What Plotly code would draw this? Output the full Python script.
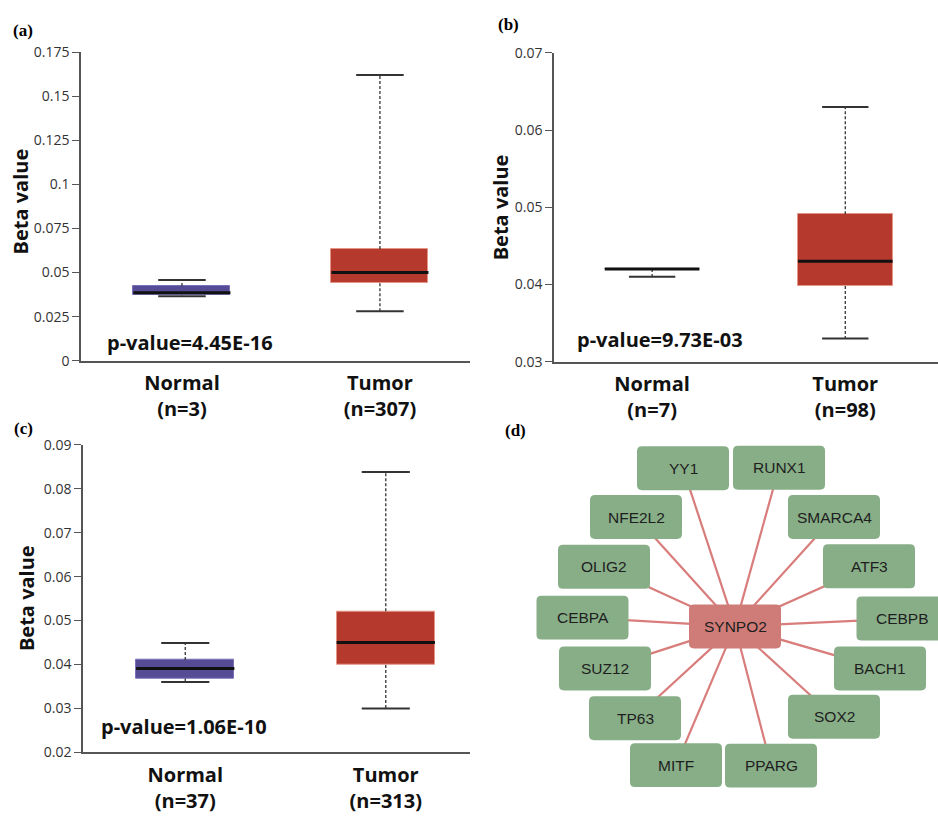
import plotly.graph_objects as go

# ---------------- data ----------------
groups = ["Normal", "Tumor"]

# panel (a)
a_n = ["n=3", "n=307"]
a_lower = [0.0365, 0.0281]
a_q1 = [0.0370, 0.0439]
a_med = [0.0385, 0.0500]
a_q3 = [0.0424, 0.0633]
a_upper = [0.0457, 0.1620]
a_p = "p-value=4.45E-16"
a_ticks = [0, 0.025, 0.05, 0.075, 0.1, 0.125, 0.15, 0.175]

# panel (b)
b_n = ["n=7", "n=98"]
b_lower = [0.0410, 0.0330]
b_q1 = [0.0420, 0.0398]
b_med = [0.0420, 0.0430]
b_q3 = [0.0420, 0.0491]
b_upper = [0.0420, 0.0630]
b_p = "p-value=9.73E-03"
b_ticks = [0.03, 0.04, 0.05, 0.06, 0.07]

# panel (c)
c_n = ["n=37", "n=313"]
c_lower = [0.0360, 0.0300]
c_q1 = [0.0368, 0.0399]
c_med = [0.0391, 0.0450]
c_q3 = [0.0410, 0.0521]
c_upper = [0.0449, 0.0838]
c_p = "p-value=1.06E-10"
c_ticks = [0.02, 0.03, 0.04, 0.05, 0.06, 0.07, 0.08, 0.09]

# panel (d) network
hub = "SYNPO2"
targets = ["YY1", "RUNX1", "NFE2L2", "SMARCA4", "OLIG2", "ATF3", "CEBPA",
           "CEBPB", "SUZ12", "BACH1", "TP63", "SOX2", "MITF", "PPARG"]
# layout coordinates of the network (hub at origin)
target_x = [-52, 44, -99, 99, -131, 134, -152.5, 167.5, -130, 145, -100, 99, -59, 36]
target_y = [162, 162.5, 112, 112, 61, 61.5, 9, 8, -43, -43, -94, -92.5, -142, -142.5]
hub_x, hub_y = 0, 0

# ---------------- styles ----------------
W, H = 938, 822
FONT = "Open Sans"
NORMAL_FILL = "#564C96"
NORMAL_EDGE = "#7A72B8"
TUMOR_FILL = "#B5392C"
TUMOR_EDGE = "#E59585"
BOX_W = 0.49
CAP_W = 0.24

fig = go.Figure()


def px_x(p):
    return p / W


def px_y(p):
    return 1 - p / H


def add_box_panel(ax, lower, q1, med, q3, upper):
    xa = "x" if ax == 1 else f"x{ax}"
    ya = "y" if ax == 1 else f"y{ax}"
    xs = list(range(len(groups)))
    fig.add_trace(go.Bar(
        x=xs, y=[b - a for a, b in zip(q1, q3)], base=q1, width=BOX_W,
        marker=dict(color=[NORMAL_FILL, TUMOR_FILL],
                    line=dict(color=[NORMAL_EDGE, TUMOR_EDGE], width=1)),
        xaxis=xa, yaxis=ya, showlegend=False, hoverinfo="skip"))
    # whiskers (dashed)
    wx, wy = [], []
    for i in xs:
        wx += [i, i, None, i, i, None]
        wy += [q3[i], upper[i], None, q1[i], lower[i], None]
    fig.add_trace(go.Scatter(x=wx, y=wy, mode="lines",
                             line=dict(color="#333333", width=1.3, dash="3px,2px"),
                             xaxis=xa, yaxis=ya, showlegend=False, hoverinfo="skip"))
    # caps
    cx, cy = [], []
    for i in xs:
        cx += [i - CAP_W / 2, i + CAP_W / 2, None, i - CAP_W / 2, i + CAP_W / 2, None]
        cy += [upper[i], upper[i], None, lower[i], lower[i], None]
    fig.add_trace(go.Scatter(x=cx, y=cy, mode="lines",
                             line=dict(color="#333333", width=2),
                             xaxis=xa, yaxis=ya, showlegend=False, hoverinfo="skip"))
    # medians
    mx, my = [], []
    for i in xs:
        mx += [i - BOX_W / 2, i + BOX_W / 2, None]
        my += [med[i], med[i], None]
    fig.add_trace(go.Scatter(x=mx, y=my, mode="lines",
                             line=dict(color="#111111", width=3),
                             xaxis=xa, yaxis=ya, showlegend=False, hoverinfo="skip"))


add_box_panel(1, a_lower, a_q1, a_med, a_q3, a_upper)
add_box_panel(2, b_lower, b_q1, b_med, b_q3, b_upper)
add_box_panel(3, c_lower, c_q1, c_med, c_q3, c_upper)

# network edges
ex, ey = [], []
for tx, ty in zip(target_x, target_y):
    ex += [hub_x, tx, None]
    ey += [hub_y, ty, None]
fig.add_trace(go.Scatter(x=ex, y=ey, mode="lines",
                         line=dict(color="#D87D7B", width=2.2),
                         xaxis="x4", yaxis="y4", showlegend=False, hoverinfo="skip"))

NODE_W, NODE_H, R = 92, 45, 5
shapes = []
annotations = []


def rounded(cx, cy, fill):
    x0, x1 = cx - NODE_W / 2, cx + NODE_W / 2
    y0, y1 = cy - NODE_H / 2, cy + NODE_H / 2
    path = (f"M {x0+R},{y0} L {x1-R},{y0} Q {x1},{y0} {x1},{y0+R} "
            f"L {x1},{y1-R} Q {x1},{y1} {x1-R},{y1} L {x0+R},{y1} "
            f"Q {x0},{y1} {x0},{y1-R} L {x0},{y0+R} Q {x0},{y0} {x0+R},{y0} Z")
    return dict(type="path", path=path, xref="x4", yref="y4",
                fillcolor=fill, line=dict(width=0), layer="above")


NODE_FONT = dict(family="Liberation Sans", size=15.5, color="#1e1e1e")
for name, tx, ty in zip(targets, target_x, target_y):
    shapes.append(rounded(tx, ty, "#88AE88"))
    annotations.append(dict(x=tx, y=ty, xref="x4", yref="y4", text=name,
                            showarrow=False, xanchor="center", yanchor="middle",
                            font=NODE_FONT))
shapes.append(rounded(hub_x, hub_y, "#CF7C78"))
annotations.append(dict(x=hub_x, y=hub_y, xref="x4", yref="y4", text=hub,
                        showarrow=False, xanchor="center", yanchor="middle",
                        font=NODE_FONT))

# ---------------- axes ----------------
axis_common = dict(showline=True, linecolor="#555555", linewidth=1.5,
                   showgrid=False, zeroline=False)
ytick_font = dict(family=FONT, size=14, color="#333333")
xtick_font = dict(family=FONT, size=20, color="#111111")


def xlabels(ns):
    return [f"<b>{g}</b><br><b>({n})</b>" for g, n in zip(groups, ns)]


xcommon = dict(tickvals=[0, 1], ticks="", tickfont=xtick_font, ticklabelstandoff=4,
               **axis_common)
ycommon = dict(ticks="outside", ticklen=7, tickcolor="#555555", tickwidth=1.2,
               tickfont=ytick_font, **axis_common)

fig.update_layout(
    width=W, height=H, margin=dict(l=0, r=0, t=0, b=0),
    paper_bgcolor="white", plot_bgcolor="white", showlegend=False,
    bargap=0,
    xaxis=dict(domain=[px_x(81), px_x(470)], range=[-0.51, 1.455],
               ticktext=xlabels(a_n), anchor="y", **xcommon),
    yaxis=dict(domain=[px_y(359), px_y(43)], range=[0, 0.175],
               tickvals=a_ticks, anchor="x", **ycommon),
    xaxis2=dict(domain=[px_x(554), 1.0], range=[-0.508, 1.48],
                ticktext=xlabels(b_n), anchor="y2", **xcommon),
    yaxis2=dict(domain=[px_y(360), px_y(44)], range=[0.03, 0.07],
                tickvals=b_ticks, anchor="x2", **ycommon),
    xaxis3=dict(domain=[px_x(83), px_x(470)], range=[-0.51, 1.42],
                ticktext=xlabels(c_n), anchor="y3", **xcommon),
    yaxis3=dict(domain=[px_y(760), px_y(445)], range=[0.02, 0.09],
                tickvals=c_ticks, anchor="x3", **ycommon),
    xaxis4=dict(domain=[px_x(520), 1.0], range=[-215, 203], visible=False,
                anchor="y4"),
    yaxis4=dict(domain=[0, px_y(430)], range=[-191, 201], visible=False,
                anchor="x4"),
    shapes=shapes,
)

# axis titles
for xp, yp in [(20, 196), (500, 202), (26, 602)]:
    annotations.append(dict(x=px_x(xp), y=px_y(yp), xref="paper", yref="paper",
                            text="<b>Beta value</b>", textangle=-90, showarrow=False,
                            xanchor="center", yanchor="middle",
                            font=dict(family=FONT, size=20, color="#111111")))
# p-values
for txt, xp, yp in [(a_p, 190, 340), (b_p, 660, 337), (c_p, 184, 733)]:
    annotations.append(dict(x=px_x(xp), y=px_y(yp), xref="paper", yref="paper",
                            text=f"<b>{txt}</b>", showarrow=False,
                            xanchor="center", yanchor="middle",
                            font=dict(family=FONT, size=20, color="#111111")))
# panel letters
for lab, xp, yp in [("(a)", 23, 21), ("(b)", 508, 15), ("(c)", 23, 428), ("(d)", 515, 430)]:
    annotations.append(dict(x=px_x(xp), y=px_y(yp), xref="paper", yref="paper",
                            text=f"<b>{lab}</b>", showarrow=False,
                            xanchor="center", yanchor="middle",
                            font=dict(family="Liberation Serif", size=17, color="#000000")))

fig.update_layout(annotations=annotations)
fig.write_html("out.html")
